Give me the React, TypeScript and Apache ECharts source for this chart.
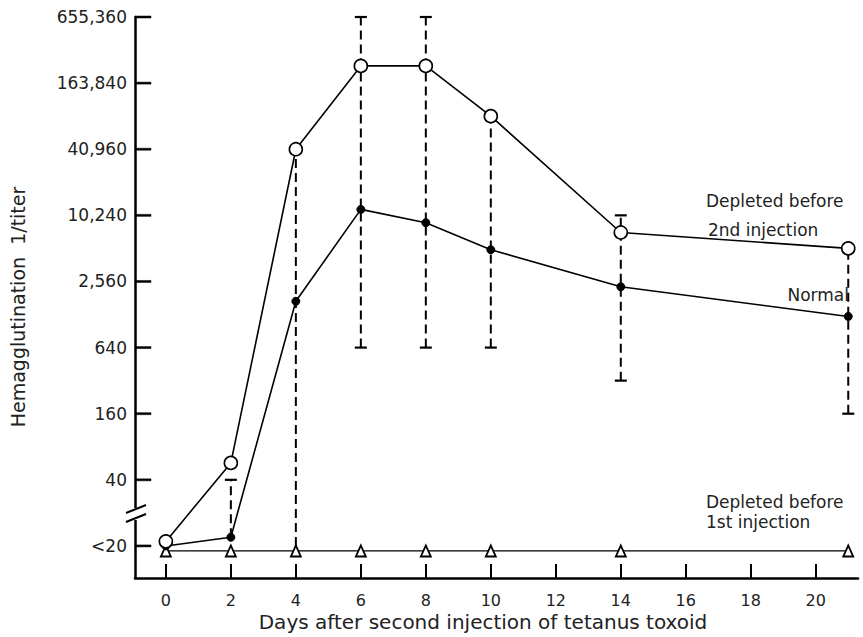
import React, { useEffect, useRef } from "react";
import * as echarts from "echarts";

// Days after second injection
const days = [0, 2, 4, 6, 8, 10, 14, 21];
// Titers (1/titer); "<20" values are drawn near the <20 line
const depletedBefore2nd = [11, 57, 40960, 235000, 235000, 81920, 7150, 5120];
const normal = [10, 12, 1690, 11600, 8780, 4980, 2290, 1230];
const depletedBefore1st = [9, 9, 9, 9, 9, 9, 9, 9];
// Range bars (dashed) for each day
const errDays = [2, 4, 6, 8, 10, 14, 21];
const errLow = [12, 10, 640, 640, 640, 320, 160];
const errHigh = [40, 40960, 655360, 655360, 81920, 10240, 5120];
const errCapTop = [1, 1, 1, 1, 1, 1, 0];
const errCapBottom = [0, 0, 1, 1, 1, 1, 1];
// Axis ticks
const yTickTiters = [10, 40, 160, 640, 2560, 10240, 40960, 163840, 655360];
const yTickLabels = ["<20", "40", "160", "640", "2,560", "10,240", "40,960", "163,840", "655,360"];
const xTicks = [0, 2, 4, 6, 8, 10, 12, 14, 16, 18, 20];
const X_MIN = -0.95;
const X_MAX = 21.3;
const Y_MIN = -0.485;
const Y_MAX = 8;

const GRID_LEFT = 135;
const GRID_TOP = 17;
const GRID_BOTTOM = 59;
const HEIGHT = 637;

const FONT = "DejaVu Sans";
const toK = (v: number) => Math.log(v / 10) / Math.log(4);

export default function App() {
  const ref = useRef<HTMLDivElement>(null);
  useEffect(() => {
    if (!ref.current) return;
    const chart = echarts.init(ref.current, null, { renderer: "svg" });
    const yTickK = yTickTiters.map(toK);
    const gridH = HEIGHT - GRID_TOP - GRID_BOTTOM;
    // inside ticks of the y axis as small filled rects
    const yTickEls = yTickK.map((k) => {
      const y = GRID_TOP + ((Y_MAX - k) / (Y_MAX - Y_MIN)) * gridH;
      return {
        type: "rect",
        z: 102,
        shape: { x: GRID_LEFT, y: y - 1, width: 16, height: 2 },
        style: { fill: "#000", stroke: "#000", lineWidth: 0.5 },
      };
    });
    const option: any = {
      animation: false,
      backgroundColor: "#fff",
      textStyle: { fontFamily: FONT },
      grid: { left: GRID_LEFT, right: 5, top: GRID_TOP, bottom: GRID_BOTTOM, containLabel: false },
      xAxis: {
        type: "value",
        min: X_MIN,
        max: X_MAX,
        axisLine: { show: true, onZero: false, lineStyle: { color: "#000", width: 2.5 } },
        axisTick: {
          show: true,
          inside: true,
          length: 14,
          lineStyle: { color: "#000", width: 2 },
          customValues: xTicks,
        },
        axisLabel: {
          customValues: xTicks,
          color: "#222",
          fontSize: 16,
          fontFamily: FONT,
          margin: 14,
        },
        splitLine: { show: false },
      },
      yAxis: {
        type: "value",
        min: Y_MIN,
        max: Y_MAX,
        axisLine: { show: true, onZero: false, lineStyle: { color: "#000", width: 2.5 } },
        axisTick: { show: false },
        axisLabel: {
          customValues: yTickK,
          color: "#222",
          fontSize: 17,
          fontFamily: FONT,
          margin: 8,
          formatter: (val: number) => {
            let best = 0;
            let d = Infinity;
            yTickK.forEach((k, i) => {
              if (Math.abs(k - val) < d) {
                d = Math.abs(k - val);
                best = i;
              }
            });
            return yTickLabels[best];
          },
        },
        splitLine: { show: false },
      },
      series: [
        {
          type: "custom",
          z: 1,
          clip: false,
          renderItem: (params: any, api: any) => {
            const x = api.value(0);
            const pLo = api.coord([x, api.value(1)]);
            const pHi = api.coord([x, api.value(2)]);
            const children: any[] = [
              {
                type: "line",
                shape: { x1: pLo[0], y1: pLo[1], x2: pHi[0], y2: pHi[1] },
                style: { stroke: "#000", lineWidth: 2, lineDash: [9, 5] },
              },
            ];
            if (api.value(3)) {
              children.push({
                type: "line",
                shape: { x1: pHi[0] - 6, y1: pHi[1], x2: pHi[0] + 6, y2: pHi[1] },
                style: { stroke: "#000", lineWidth: 2.2 },
              });
            }
            if (api.value(4)) {
              children.push({
                type: "line",
                shape: { x1: pLo[0] - 6, y1: pLo[1], x2: pLo[0] + 6, y2: pLo[1] },
                style: { stroke: "#000", lineWidth: 2.2 },
              });
            }
            return { type: "group", children };
          },
          data: errDays.map((d, i) => [d, toK(errLow[i]), toK(errHigh[i]), errCapTop[i], errCapBottom[i]]),
        },
        {
          name: "Depleted before 1st injection",
          type: "line",
          z: 2,
          clip: false,
          symbol: "triangle",
          symbolSize: [10, 11],
          lineStyle: { color: "#000", width: 1.3 },
          itemStyle: { color: "#fff", borderColor: "#000", borderWidth: 1.8 },
          data: days.map((d, i) => [d, toK(depletedBefore1st[i])]),
        },
        {
          name: "Normal",
          type: "line",
          z: 3,
          clip: false,
          symbol: "circle",
          symbolSize: 8,
          lineStyle: { color: "#000", width: 1.6 },
          itemStyle: { color: "#000", borderColor: "#000", borderWidth: 1 },
          data: days.map((d, i) => [d, toK(normal[i])]),
        },
        {
          name: "Depleted before 2nd injection",
          type: "line",
          z: 4,
          clip: false,
          symbol: "circle",
          symbolSize: 13,
          lineStyle: { color: "#000", width: 1.6 },
          itemStyle: { color: "#fff", borderColor: "#000", borderWidth: 1.6 },
          data: days.map((d, i) => [d, toK(depletedBefore2nd[i])]),
        },
      ],
      graphic: [
        // axis break
        { type: "rect", shape: { x: 130, y: 508, width: 10, height: 12 }, style: { fill: "#fff" }, z: 100 },
        { type: "line", shape: { x1: 126, y1: 513, x2: 146, y2: 505 }, style: { stroke: "#000", lineWidth: 2 }, z: 101 },
        { type: "line", shape: { x1: 126, y1: 522, x2: 146, y2: 514 }, style: { stroke: "#000", lineWidth: 2 }, z: 101 },
        ...yTickEls,
        {
          type: "text",
          x: 18,
          y: 307,
          rotation: Math.PI / 2,
          style: {
            text: "Hemagglutination  1/titer",
            fontFamily: FONT,
            fontSize: 19,
            fill: "#222",
            align: "center",
            verticalAlign: "middle",
          },
        },
        {
          type: "text",
          x: 483,
          y: 622,
          style: {
            text: "Days after second injection of tetanus toxoid",
            fontFamily: FONT,
            fontSize: 20,
            fill: "#222",
            align: "center",
            verticalAlign: "middle",
          },
        },
        {
          type: "text",
          x: 706,
          y: 201,
          style: { text: "Depleted before", fontFamily: FONT, fontSize: 17, fill: "#222", verticalAlign: "middle" },
        },
        {
          type: "text",
          x: 708,
          y: 230,
          style: { text: "2nd injection", fontFamily: FONT, fontSize: 17, fill: "#222", verticalAlign: "middle" },
        },
        {
          type: "text",
          x: 849,
          y: 295,
          style: { text: "Normal", fontFamily: FONT, fontSize: 17, fill: "#222", align: "right", verticalAlign: "middle" },
        },
        {
          type: "text",
          x: 706,
          y: 502,
          style: { text: "Depleted before", fontFamily: FONT, fontSize: 17, fill: "#222", verticalAlign: "middle" },
        },
        {
          type: "text",
          x: 706,
          y: 522,
          style: { text: "1st injection", fontFamily: FONT, fontSize: 17, fill: "#222", verticalAlign: "middle" },
        },
      ],
    };
    chart.setOption(option);
    return () => chart.dispose();
  }, []);
  return (
    <div
      ref={ref}
      style={{ position: "fixed", left: 0, top: 0, width: 863, height: 637, background: "#fff" }}
    />
  );
}
